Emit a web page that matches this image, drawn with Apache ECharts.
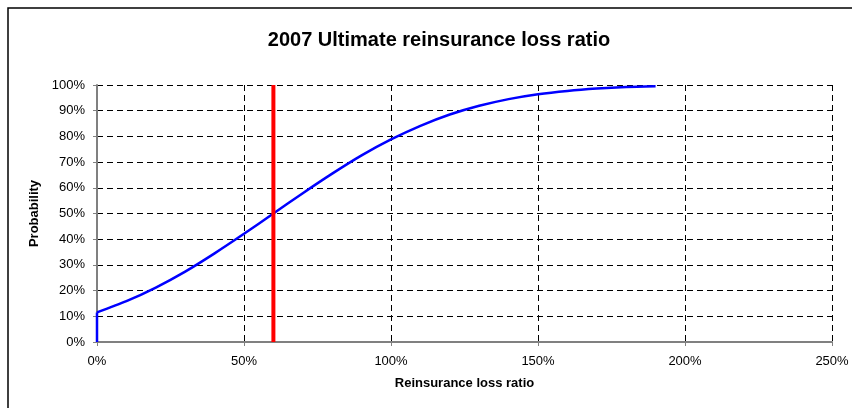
<!DOCTYPE html>
<html>
<head>
<meta charset="utf-8">
<script src="https://cdn.jsdelivr.net/npm/echarts@6/dist/echarts.min.js"></script>
<style>
  html, body { margin: 0; padding: 0; background: #fff; }
  #chart { width: 852px; height: 408px; }
</style>
</head>
<body>
<div id="chart"></div>
<script>
// Cumulative probability of the 2007 ultimate reinsurance loss ratio
const lossRatio = [0, 0.1, 0.2, 0.3, 0.4, 0.5, 0.6, 0.7, 0.8, 0.9, 1.0,
                   1.1, 1.2, 1.3, 1.4, 1.5, 1.6, 1.7, 1.8, 1.9];
const probability = [0.115, 0.159, 0.212, 0.274, 0.345, 0.421, 0.500, 0.579, 0.655, 0.726, 0.788,
                     0.841, 0.885, 0.919, 0.945, 0.964, 0.977, 0.986, 0.992, 0.995];

// Probability mass at a zero loss ratio (vertical step at the origin)
const stepX = [0, 0];
const stepY = [0, 0.115];

// Vertical marker at the median loss ratio
const markerX = [0.6, 0.6];
const markerY = [0, 1];

const xTicks = { min: 0, max: 2.5, interval: 0.5 };
const yTicks = { min: 0, max: 1, interval: 0.1 };

const titleText = '2007 Ultimate reinsurance loss ratio';
const xName = 'Reinsurance loss ratio';
const yName = 'Probability';

const pct = v => Math.round(v * 100) + '%';
const font = 'Arial, "Liberation Sans", sans-serif';
const pairs = (xs, ys) => xs.map((x, i) => [x, ys[i]]);

const chart = echarts.init(document.getElementById('chart'), null, { renderer: 'canvas' });
chart.setOption({
  animation: false,
  backgroundColor: '#fff',
  title: {
    text: titleText,
    left: 434, top: 25, textAlign: 'center',
    textStyle: { fontFamily: font, fontSize: 20, fontWeight: 'bold', color: '#000' }
  },
  graphic: [{
    type: 'rect', silent: true,
    shape: { x: 8, y: 8, width: 900, height: 500 },
    style: { fill: null, stroke: '#000', lineWidth: 1.5 }
  }],
  grid: { left: 97, right: 20, top: 85, bottom: 66 },
  xAxis: {
    type: 'value', min: xTicks.min, max: xTicks.max, interval: xTicks.interval,
    name: xName, nameLocation: 'middle', nameGap: 35,
    nameTextStyle: { fontFamily: font, fontSize: 13, fontWeight: 'bold', color: '#000' },
    axisLine: { onZero: false, lineStyle: { color: '#808080', width: 2 } },
    axisTick: { show: true, length: 4, lineStyle: { color: '#808080' } },
    axisLabel: { formatter: pct, fontFamily: font, fontSize: 13, color: '#000', margin: 13 },
    splitLine: { show: true, lineStyle: { color: '#000', width: 1, type: [6, 4] } }
  },
  yAxis: {
    type: 'value', min: yTicks.min, max: yTicks.max, interval: yTicks.interval,
    name: yName, nameLocation: 'middle', nameGap: 54, nameRotate: 90,
    nameTextStyle: { fontFamily: font, fontSize: 13, fontWeight: 'bold', color: '#000' },
    axisLine: { show: true, lineStyle: { color: '#808080', width: 2 } },
    axisTick: { show: true, length: 4, lineStyle: { color: '#808080' } },
    axisLabel: { formatter: pct, fontFamily: font, fontSize: 13, color: '#000', margin: 12 },
    splitLine: { show: true, lineStyle: { color: '#000', width: 1, type: [6, 4] } }
  },
  series: [
    {
      type: 'line', showSymbol: false,
      data: pairs(stepX, stepY),
      lineStyle: { color: '#0000FF', width: 2.5 },
      z: 3
    },
    {
      type: 'line', showSymbol: false, smooth: 0.25,
      data: pairs(lossRatio, probability),
      lineStyle: { color: '#0000FF', width: 2.5 },
      z: 3
    },
    {
      type: 'line', showSymbol: false,
      data: pairs(markerX, markerY),
      lineStyle: { color: '#FF0000', width: 4 },
      z: 4
    }
  ]
});
</script>
</body>
</html>
